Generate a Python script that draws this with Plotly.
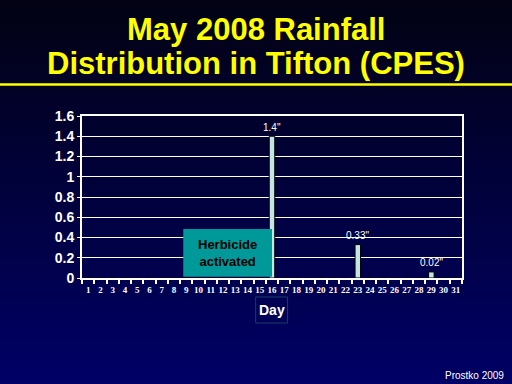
import plotly.graph_objects as go

days = list(range(1, 32))
rain = [0, 0, 0.005, 0, 0, 0, 0, 0, 0, 0, 0, 0, 0, 0, 0, 1.4, 0, 0, 0, 0, 0, 0, 0.33,
        0.005, 0, 0, 0, 0, 0.06, 0, 0]
label_days = [16, 23, 29]
label_texts = ['1.4"', '0.33"', '0.02"']
label_y = [1.4, 0.33, 0.06]
y_ticks = [0, 0.2, 0.4, 0.6, 0.8, 1, 1.2, 1.4, 1.6]
y_ticktext = ["0", "0.2", "0.4", "0.6", "0.8", "1", "1.2", "1.4", "1.6"]
title_lines = ["May 2008 Rainfall", "Distribution in Tifton (CPES)"]

fig = go.Figure()
fig.add_trace(go.Bar(
    x=days, y=rain, width=0.45,
    marker=dict(color="#c4e4e4", line=dict(color="black", width=1)),
    xaxis="x", yaxis="y", hoverinfo="skip",
))
fig.add_trace(go.Scatter(x=[1], y=[0], xaxis="x2", yaxis="y", mode="markers",
                         marker=dict(opacity=0), hoverinfo="skip"))

shapes = []
n = 48
top = (2, 2, 20)
bot = (0, 0, 102)
for i in range(n):
    t = i / (n - 1)
    c = tuple(round(top[k] + (bot[k] - top[k]) * t) for k in range(3))
    shapes.append(dict(type="rect", xref="paper", yref="paper", layer="below",
                       x0=-0.3, x1=1.3, y0=1.72 - (i + 1) * 2.4 / n - 0.01,
                       y1=1.72 - i * 2.4 / n, fillcolor="rgb(%d,%d,%d)" % c,
                       line=dict(width=0)))
shapes.append(dict(type="line", xref="paper", yref="paper", x0=-0.3, x1=1.3,
                   y0=1.194, y1=1.194, line=dict(color="#ffff00", width=2.5)))
shapes.append(dict(type="rect", xref="x", yref="y", x0=8.76, x1=16.0, y0=0.013, y1=0.484,
                   fillcolor="#009999", line=dict(width=0), layer="above"))
shapes.append(dict(type="rect", xref="paper", yref="paper", x0=0.457, x1=0.541,
                   y0=-0.278, y1=-0.117, line=dict(color="#1c3c6c", width=1)))

annotations = []
for d, t, yv in zip(label_days, label_texts, label_y):
    annotations.append(dict(x=d, y=yv, xref="x", yref="y", text=t, showarrow=False,
                            yshift=9, font=dict(family="Arial", size=10, color="white")))
annotations.append(dict(x=12.4, y=0.25, xref="x", yref="y",
                        text="<b>Herbicide<br>activated</b>", showarrow=False,
                        font=dict(family="Arial", size=13, color="black")))
annotations.append(dict(x=0.4995, y=-0.197, xref="paper", yref="paper", text="<b>Day</b>",
                        showarrow=False, yanchor="middle",
                        font=dict(family="Arial", size=14, color="white")))
annotations.append(dict(x=1.116, y=-0.599, xref="paper", yref="paper", text="Prostko 2009",
                        showarrow=False, xanchor="right", yanchor="middle",
                        font=dict(family="Arial", size=10, color="white")))
for line, yp in zip(title_lines, [1.531, 1.327]):
    annotations.append(dict(x=0.457, y=yp, xref="paper", yref="paper",
                            text="<b>%s</b>" % line, showarrow=False, yanchor="middle",
                            font=dict(family="Arial", size=31, color="#ffff00")))

fig.update_layout(
    width=512, height=384,
    margin=dict(l=82, r=50, t=116, b=106, autoexpand=False),
    paper_bgcolor="rgba(0,0,0,0)",
    plot_bgcolor="rgba(0,0,0,0)",
    showlegend=False,
    shapes=shapes,
    annotations=annotations,
    xaxis=dict(range=[0.5, 31.5], tickvals=[d + 0.5 for d in range(0, 32)],
               showticklabels=False, ticks="outside", ticklen=4, tickcolor="white",
               tickwidth=1.5, showgrid=False, showline=True, linecolor="white",
               linewidth=2, mirror=True, zeroline=False, automargin=False),
    xaxis2=dict(range=[0.5, 31.5], overlaying="x", side="bottom", tickvals=days,
                ticktext=["<b>%d</b>" % d for d in days], showgrid=False, showline=False,
                zeroline=False, ticks="", automargin=False, ticklabelstandoff=5,
                tickfont=dict(family="Liberation Sans Narrow, Arial Narrow", size=9, color="white")),
    yaxis=dict(range=[0, 1.6], tickvals=y_ticks, ticktext=["<b>%s</b>" % s for s in y_ticktext],
               showgrid=True, gridcolor="white", gridwidth=1.2, showline=True,
               linecolor="white", linewidth=2, mirror=True, zeroline=False,
               ticks="outside", ticklen=3, tickcolor="white", automargin=False,
               tickfont=dict(family="Arial", size=14, color="white")),
    font=dict(family="Arial", color="white"),
)

fig.write_html("out.html", config={"displayModeBar": False},
               post_script="document.body.style.margin='0px';document.body.style.background='#000040';")
